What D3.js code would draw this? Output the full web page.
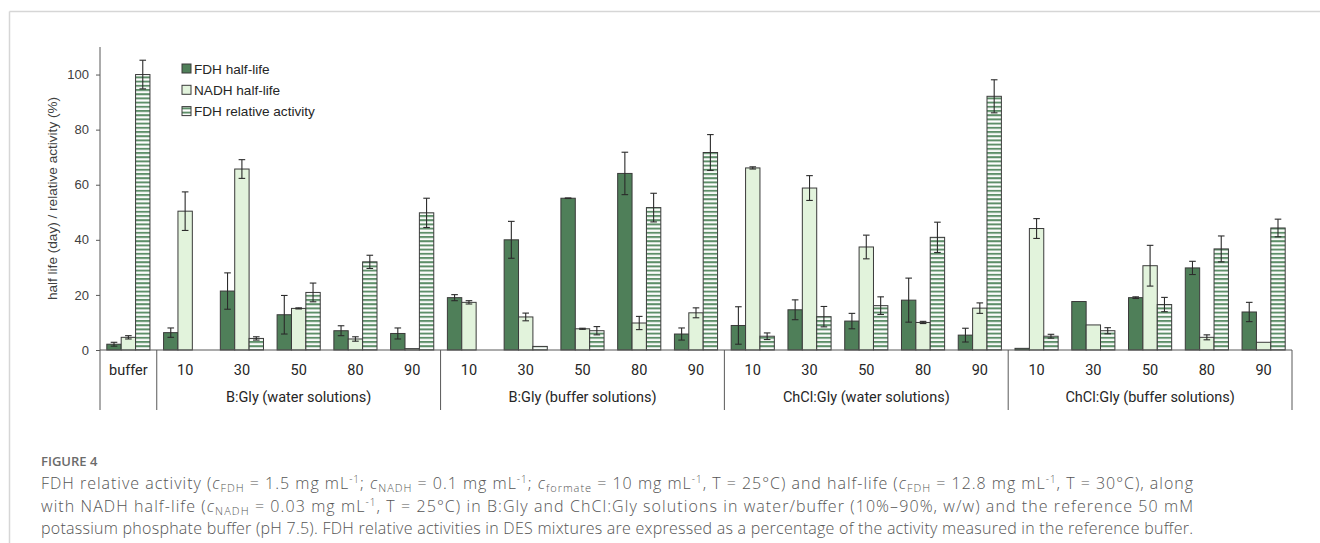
<!DOCTYPE html>
<html>
<head>
<meta charset="utf-8">
<script src="https://cdn.jsdelivr.net/npm/d3@7"></script>
<style>
    body { margin: 0; background: #fff; }
    .tick text { font-family: "Liberation Sans", Arial, sans-serif; }
</style>
</head>
<body>
<script>
//category labels, one per cluster
var catLabels = ["buffer", "10", "30", "50", "80", "90", "10", "30", "50", "80", "90",
    "10", "30", "50", "80", "90", "10", "30", "50", "80", "90"];

//group labels under the categories and how many categories each one spans
var groupLabels = ["", "B:Gly (water solutions)", "B:Gly (buffer solutions)",
    "ChCl:Gly (water solutions)", "ChCl:Gly (buffer solutions)"];
var groupSizes = [1, 5, 5, 5, 5];

//series values and error bars
var fdhHalf = [2.1, 6.3, 21.4, 12.8, 7.0, 6.0, 19.0, 40.0, 55.1, 64.1, 5.8,
    8.9, 14.6, 10.5, 18.1, 5.4, 0.6, 17.6, 19.0, 29.8, 13.8];
var fdhHalfErr = [0.7, 1.7, 6.6, 7.0, 1.8, 2.0, 1.1, 6.7, 0.1, 7.7, 2.2,
    6.8, 3.6, 2.8, 8.0, 2.5, 0, 0, 0.3, 2.4, 3.5];
var nadhHalf = [4.6, 50.4, 65.7, 15.1, 4.0, 0.5, 17.3, 12.0, 7.7, 9.8, 13.5,
    66.1, 58.8, 37.4, 10.0, 15.2, 44.1, 9.1, 30.6, 4.6, 2.8];
var nadhHalfErr = [0.6, 7.0, 3.4, 0.2, 0.8, 0, 0.6, 1.4, 0.2, 2.4, 1.8,
    0.4, 4.5, 4.3, 0.4, 1.9, 3.6, 0, 7.4, 0.9, 0];
var fdhActivity = [100, null, 4.2, 20.9, 32.0, 49.8, null, 1.3, 7.0, 51.7, 71.7,
    5.0, 12.1, 16.1, 40.9, 92.1, 5.0, 7.0, 16.5, 36.7, 44.3];
var fdhActivityErr = [5.2, 0, 0.6, 3.4, 2.4, 5.3, 0, 0, 1.5, 5.2, 6.5,
    1.2, 3.7, 3.2, 5.5, 6.0, 0.7, 1.1, 2.6, 4.7, 3.2];

var seriesNames = ["FDH half-life", "NADH half-life", "FDH relative activity"];
var yTicks = [0, 20, 40, 60, 80, 100];

function drawChart(){
    var width = 1320,
        height = 543;

    var svg = d3.select("body")
        .append("svg")
        .attr("width", width)
        .attr("height", height);

    //stripe pattern for the relative activity bars
    var defs = svg.append("defs");
    var stripes = defs.append("pattern")
        .attr("id", "stripes")
        .attr("patternUnits", "userSpaceOnUse")
        .attr("width", 6)
        .attr("height", 4.2);
    stripes.append("rect")
        .attr("width", 6).attr("height", 4.2)
        .attr("fill", "#ffffff");
    stripes.append("rect")
        .attr("y", 0.8)
        .attr("width", 6).attr("height", 2)
        .attr("fill", "#5e8f69");

    //page frame lines
    svg.append("line")
        .attr("x1", 9.5).attr("x2", width)
        .attr("y1", 11.5).attr("y2", 11.5)
        .attr("stroke", "#d6d6d6").attr("stroke-width", 1.5);
    svg.append("line")
        .attr("x1", 9.5).attr("x2", 9.5)
        .attr("y1", 11.5).attr("y2", height)
        .attr("stroke", "#d6d6d6").attr("stroke-width", 1.5);

    var left = 100, right = 1292, top = 47, bottom = 350;

    //scales
    var x = d3.scaleBand()
        .domain(d3.range(catLabels.length))
        .range([left, right])
        .padding(0);

    var xInner = d3.scaleBand()
        .domain(d3.range(3))
        .range([0, x.bandwidth() * 0.76])
        .padding(0);

    var innerOffset = x.bandwidth() * 0.12;

    var y = d3.scaleLinear()
        .domain([0, 110])
        .range([bottom, top]);

    //y axis
    var yAxis = svg.append("g")
        .attr("transform", "translate(" + left + ",0)")
        .call(d3.axisLeft(y).tickValues(yTicks).tickSize(4).tickPadding(7));
    yAxis.select(".domain").remove();
    yAxis.selectAll(".tick line").attr("stroke", "#595959");
    yAxis.selectAll(".tick text")
        .attr("fill", "#404040")
        .style("font-size", "13px");

    svg.append("line")
        .attr("x1", left).attr("x2", left)
        .attr("y1", top).attr("y2", 410)
        .attr("stroke", "#595959");

    svg.append("text")
        .attr("transform", "translate(53," + ((top + bottom) / 2) + ") rotate(-90)")
        .attr("text-anchor", "middle")
        .attr("dominant-baseline", "middle")
        .style("font-family", "Liberation Sans, Arial, sans-serif")
        .style("font-size", "13.6px")
        .attr("fill", "#404040")
        .text("half life (day) / relative activity (%)");

    //bars
    var series = [
        {vals: fdhHalf, errs: fdhHalfErr, fill: "#4f7f59"},
        {vals: nadhHalf, errs: nadhHalfErr, fill: "#e2f3dc"},
        {vals: fdhActivity, errs: fdhActivityErr, fill: "url(#stripes)"}
    ];

    series.forEach(function(s, si){
        var pts = s.vals.map(function(v, i){ return {i: i, v: v, e: s.errs[i]}; })
            .filter(function(d){ return d.v != null; });

        svg.append("g").selectAll("rect")
            .data(pts)
            .enter()
            .append("rect")
            .attr("x", function(d){ return x(d.i) + innerOffset + xInner(si); })
            .attr("y", function(d){ return y(d.v); })
            .attr("width", xInner.bandwidth())
            .attr("height", function(d){ return y(0) - y(d.v); })
            .attr("fill", s.fill)
            .attr("stroke", "#3a3a3a")
            .attr("stroke-width", 1);

        //error bars
        var eb = svg.append("g").selectAll("g")
            .data(pts.filter(function(d){ return d.e > 0; }))
            .enter()
            .append("g")
            .attr("stroke", "#2b2b2b")
            .attr("stroke-width", 1.1);
        var cx = function(d){ return x(d.i) + innerOffset + xInner(si) + xInner.bandwidth() / 2; };
        eb.append("line")
            .attr("x1", cx).attr("x2", cx)
            .attr("y1", function(d){ return y(d.v + d.e); })
            .attr("y2", function(d){ return y(d.v - d.e); });
        [1, -1].forEach(function(sign){
            eb.append("line")
                .attr("x1", function(d){ return cx(d) - 3.3; })
                .attr("x2", function(d){ return cx(d) + 3.3; })
                .attr("y1", function(d){ return y(d.v + sign * d.e); })
                .attr("y2", function(d){ return y(d.v + sign * d.e); });
        });
    });

    //category axis line
    svg.append("line")
        .attr("x1", left).attr("x2", right)
        .attr("y1", bottom).attr("y2", bottom)
        .attr("stroke", "#595959");

    svg.append("g").selectAll("text")
        .data(catLabels)
        .enter()
        .append("text")
        .attr("x", function(d, i){ return x(i) + x.bandwidth() / 2; })
        .attr("y", 375)
        .attr("text-anchor", "middle")
        .style("font-family", "Liberation Sans Narrow, Roboto, sans-serif")
        .style("font-size", "14.5px")
        .attr("fill", "#262626")
        .text(function(d){ return d; });

    //group separators and labels
    var start = 0;
    groupSizes.forEach(function(n, gi){
        var x0 = x(start), x1 = x(start + n - 1) + x.bandwidth();
        svg.append("line")
            .attr("x1", x1).attr("x2", x1)
            .attr("y1", bottom).attr("y2", 410)
            .attr("stroke", "#595959");
        if (groupLabels[gi]) {
            svg.append("text")
                .attr("x", (x0 + x1) / 2)
                .attr("y", 402)
                .attr("text-anchor", "middle")
                .style("font-family", "Liberation Sans Narrow, Roboto, sans-serif")
                .style("font-size", "14.5px")
                .attr("fill", "#262626")
                .text(groupLabels[gi]);
        }
        start += n;
    });

    //legend
    var legend = svg.append("g")
        .attr("transform", "translate(182,64)");
    var legFills = ["#4f7f59", "#e2f3dc", "url(#stripes)"];
    seriesNames.forEach(function(name, i){
        var row = legend.append("g").attr("transform", "translate(0," + (i * 21.3) + ")");
        row.append("rect")
            .attr("width", 9).attr("height", 9)
            .attr("fill", legFills[i])
            .attr("stroke", "#3a3a3a");
        row.append("text")
            .attr("x", 12).attr("y", 9.5)
            .style("font-family", "Liberation Sans, Arial, sans-serif")
            .style("font-size", "13.6px")
            .attr("fill", "#262626")
            .text(name);
    });

    //figure caption
    var cap = svg.append("g").attr("transform", "translate(41,0)");
    cap.append("text")
        .attr("y", 466)
        .style("font-family", "Open Sans, sans-serif")
        .style("font-size", "13px")
        .style("font-weight", "600")
        .attr("fill", "#6b6b6b")
        .text("FIGURE 4");

    var capLines = [
        [["FDH relative activity ("], ["c", "i"], ["FDH", "sub"], [" = 1.5 mg mL"], ["-1", "sup"], ["; "],
         ["c", "i"], ["NADH", "sub"], [" = 0.1 mg mL"], ["-1", "sup"], ["; "], ["c", "i"], ["formate", "sub"],
         [" = 10 mg mL"], ["-1", "sup"], [", T = 25°C) and half-life ("], ["c", "i"], ["FDH", "sub"],
         [" = 12.8 mg mL"], ["-1", "sup"], [", T = 30°C), along"]],
        [["with NADH half-life ("], ["c", "i"], ["NADH", "sub"], [" = 0.03 mg mL"], ["-1", "sup"],
         [", T = 25°C) in B:Gly and ChCl:Gly solutions in water/buffer (10%–90%, w/w) and the reference 50 mM"]],
        [["potassium phosphate buffer (pH 7.5). FDH relative activities in DES mixtures are expressed as a percentage of the activity measured in the reference buffer."]]
    ];

    capLines.forEach(function(parts, li){
        var t = cap.append("text")
            .attr("y", 489 + li * 22.5)
            .attr("textLength", 1152)
            .attr("lengthAdjust", "spacing")
            .style("font-family", "Open Sans, sans-serif")
            .style("font-size", "16px")
            .style("font-weight", "300")
            .attr("fill", "#555555");
        parts.forEach(function(p){
            var ts = t.append("tspan").text(p[0]);
            if (p[1] == "i") ts.style("font-style", "italic");
            if (p[1] == "sub") ts.attr("baseline-shift", "-3").style("font-size", "11px");
            if (p[1] == "sup") ts.attr("baseline-shift", "6").style("font-size", "10px");
        });
    });
}

window.onload = drawChart;
</script>
</body>
</html>
